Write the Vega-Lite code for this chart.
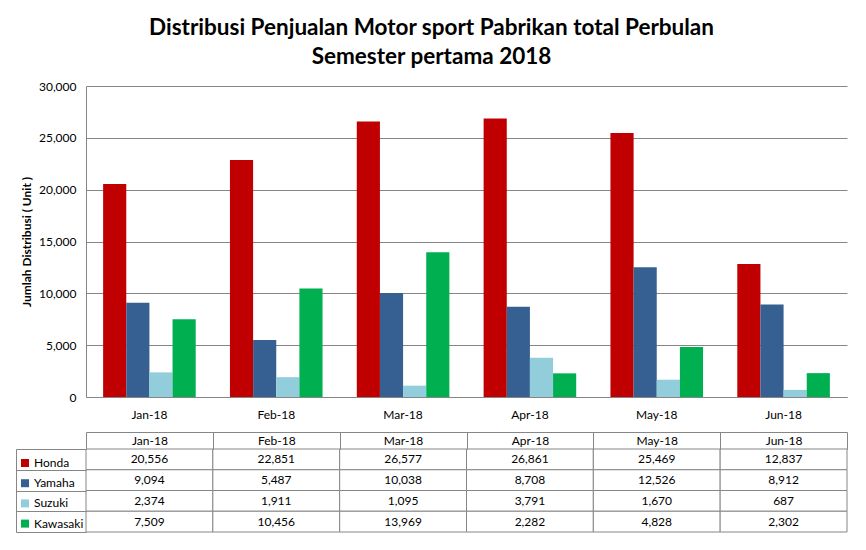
{
  "$schema": "https://vega.github.io/schema/vega-lite/v6.json",
  "padding": {"left": 15, "top": 16, "right": 16, "bottom": 10},
  "title": {
    "text": ["Distribusi Penjualan Motor sport Pabrikan total Perbulan", "Semester pertama 2018"],
    "font": "Lato",
    "fontSize": 22.5,
    "fontWeight": "bold",
    "lineHeight": 29.5,
    "anchor": "middle",
    "color": "#000000",
    "offset": 11.5
  },
  "data": {
    "values": [
      {"month": "Jan-18", "brand": "Honda", "value": 20556},
      {"month": "Feb-18", "brand": "Honda", "value": 22851},
      {"month": "Mar-18", "brand": "Honda", "value": 26577},
      {"month": "Apr-18", "brand": "Honda", "value": 26861},
      {"month": "May-18", "brand": "Honda", "value": 25469},
      {"month": "Jun-18", "brand": "Honda", "value": 12837},
      {"month": "Jan-18", "brand": "Yamaha", "value": 9094},
      {"month": "Feb-18", "brand": "Yamaha", "value": 5487},
      {"month": "Mar-18", "brand": "Yamaha", "value": 10038},
      {"month": "Apr-18", "brand": "Yamaha", "value": 8708},
      {"month": "May-18", "brand": "Yamaha", "value": 12526},
      {"month": "Jun-18", "brand": "Yamaha", "value": 8912},
      {"month": "Jan-18", "brand": "Suzuki", "value": 2374},
      {"month": "Feb-18", "brand": "Suzuki", "value": 1911},
      {"month": "Mar-18", "brand": "Suzuki", "value": 1095},
      {"month": "Apr-18", "brand": "Suzuki", "value": 3791},
      {"month": "May-18", "brand": "Suzuki", "value": 1670},
      {"month": "Jun-18", "brand": "Suzuki", "value": 687},
      {"month": "Jan-18", "brand": "Kawasaki", "value": 7509},
      {"month": "Feb-18", "brand": "Kawasaki", "value": 10456},
      {"month": "Mar-18", "brand": "Kawasaki", "value": 13969},
      {"month": "Apr-18", "brand": "Kawasaki", "value": 2282},
      {"month": "May-18", "brand": "Kawasaki", "value": 4828},
      {"month": "Jun-18", "brand": "Kawasaki", "value": 2302}
    ]
  },
  "spacing": 11,
  "vconcat": [
    {
      "width": 761,
      "height": 311,
      "mark": {"type": "bar"},
      "encoding": {
        "x": {
          "field": "month",
          "type": "nominal",
          "sort": ["Jan-18", "Feb-18", "Mar-18", "Apr-18", "May-18", "Jun-18"],
          "scale": {"paddingInner": 0.27, "paddingOuter": 0.135},
          "axis": {
            "title": null,
            "labelAngle": 0,
            "ticks": false,
            "labelPadding": 12,
            "domainColor": "#868686"
          }
        },
        "xOffset": {
          "field": "brand",
          "type": "nominal",
          "sort": ["Honda", "Yamaha", "Suzuki", "Kawasaki"],
          "scale": {"padding": 0}
        },
        "y": {
          "field": "value",
          "type": "quantitative",
          "scale": {"domain": [0, 30000]},
          "axis": {
            "title": "Jumlah Distribusi ( Unit )",
            "titleFontSize": 12,
            "titleFontWeight": "bold",
            "titlePadding": 5,
            "values": [0, 5000, 10000, 15000, 20000, 25000, 30000],
            "format": ",d",
            "ticks": false,
            "labelPadding": 10,
            "grid": true,
            "gridColor": "#868686",
            "domainColor": "#868686"
          }
        },
        "color": {
          "field": "brand",
          "type": "nominal",
          "scale": {
            "domain": ["Honda", "Yamaha", "Suzuki", "Kawasaki"],
            "range": ["#C00000", "#376092", "#92CDDC", "#00B050"]
          },
          "legend": {
            "title": null,
            "orient": "none",
            "legendX": -67,
            "legendY": 371,
            "symbolType": "square",
            "symbolSize": 64,
            "symbolStrokeWidth": 0,
            "labelFontSize": 12,
            "labelOffset": 3,
            "rowPadding": 8.2,
            "padding": 0
          }
        }
      }
    },
    {
      "width": 761,
      "height": 83,
      "encoding": {
        "x": {
          "field": "month",
          "type": "nominal",
          "sort": ["Jan-18", "Feb-18", "Mar-18", "Apr-18", "May-18", "Jun-18"],
          "scale": {"padding": 0}
        },
        "y": {
          "field": "brand",
          "type": "nominal",
          "sort": ["Honda", "Yamaha", "Suzuki", "Kawasaki"],
          "scale": {"padding": 0}
        }
      },
      "layer": [
        {
          "mark": {"type": "rect", "fill": "#ffffff", "stroke": "#868686", "strokeWidth": 1},
          "encoding": {
            "x": {
              "field": "month",
              "type": "nominal",
              "sort": ["Jan-18", "Feb-18", "Mar-18", "Apr-18", "May-18", "Jun-18"],
              "axis": {
                "orient": "top",
                "title": null,
                "labelAngle": 0,
                "domain": false,
                "tickBand": "extent",
                "tickSize": 17,
                "tickColor": "#868686",
                "labelPadding": -8.5,
                "labelBaseline": "middle",
                "labelFontSize": 12
              }
            },
            "y": {
              "field": "brand",
              "type": "nominal",
              "sort": ["Honda", "Yamaha", "Suzuki", "Kawasaki"],
              "axis": {
                "orient": "left",
                "title": null,
                "labels": false,
                "domain": false,
                "tickBand": "extent",
                "tickSize": 70,
                "tickColor": "#868686"
              }
            }
          }
        },
        {
          "mark": {"type": "text", "fontSize": 12, "color": "#000000"},
          "encoding": {
            "text": {"field": "value", "type": "quantitative", "format": ",d"},
            "x": {
              "field": "month",
              "type": "nominal",
              "sort": ["Jan-18", "Feb-18", "Mar-18", "Apr-18", "May-18", "Jun-18"],
              "axis": {
                "orient": "top",
                "offset": 17,
                "title": null,
                "labels": false,
                "ticks": false,
                "domain": true,
                "domainColor": "#868686"
              }
            },
            "y": {
              "field": "brand",
              "type": "nominal",
              "sort": ["Honda", "Yamaha", "Suzuki", "Kawasaki"],
              "axis": {
                "orient": "left",
                "offset": 70,
                "title": null,
                "labels": false,
                "ticks": false,
                "domain": true,
                "domainColor": "#868686"
              }
            }
          }
        }
      ],
      "resolve": {"axis": {"x": "independent", "y": "independent"}}
    }
  ],
  "config": {
    "font": "Lato",
    "view": {"stroke": null},
    "axis": {"labelFont": "Lato", "labelFontSize": 12, "labelColor": "#000000", "titleColor": "#000000", "titleFont": "Lato"},
    "legend": {"labelFont": "Lato", "labelColor": "#000000"},
    "text": {"font": "Lato"}
  }
}
